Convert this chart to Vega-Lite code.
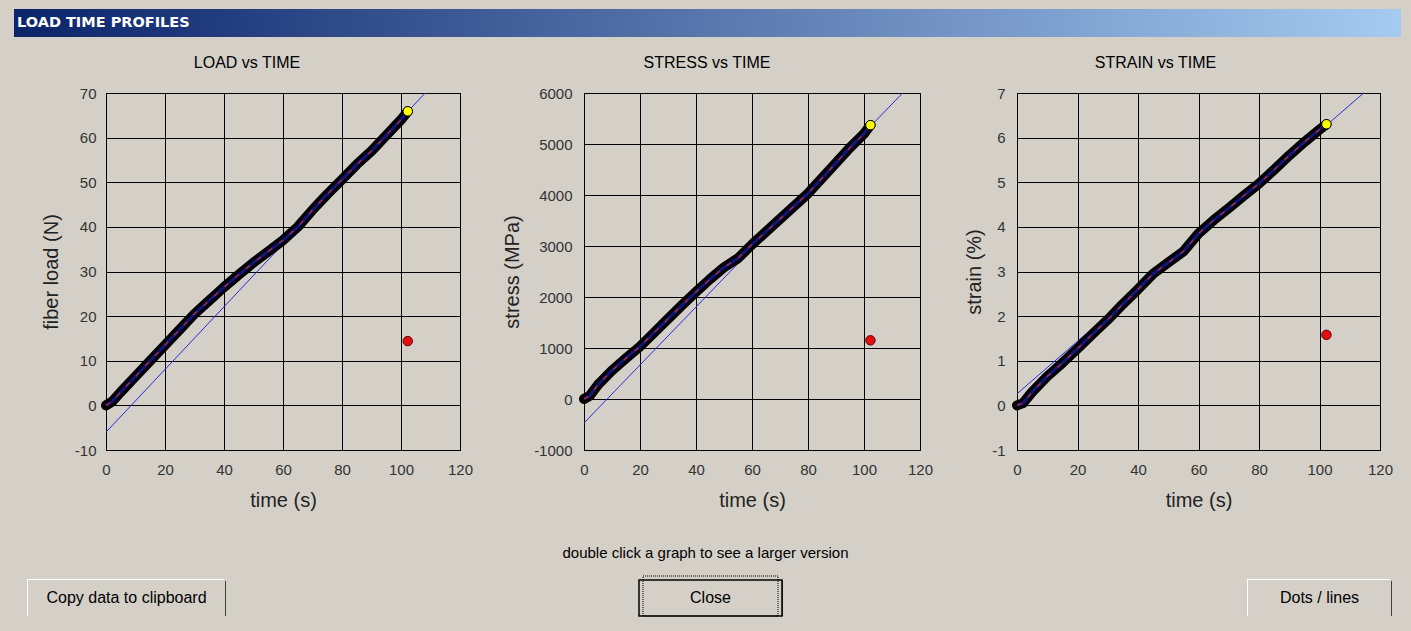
{
  "$schema": "https://vega.github.io/schema/vega-lite/v6.json",
  "background": "#d4d0c8",
  "padding": {"left": 13, "top": 9, "right": 11, "bottom": 14},
  "config": {
    "font": "Liberation Sans",
    "view": {"stroke": "#000", "strokeWidth": 1},
    "axis": {
      "grid": true, "gridColor": "#000", "gridOpacity": 1, "gridWidth": 1,
      "domain": false, "ticks": false, "tickSize": 0,
      "labelFont": "Liberation Sans", "labelFontSize": 15, "labelColor": "#333",
      "titleFont": "Liberation Sans", "titleFontSize": 20, "titleFontWeight": "normal", "titleColor": "#222"
    },
    "title": {"font": "Liberation Sans", "fontSize": 16, "fontWeight": "normal", "color": "#000"}
  },
  "datasets": {
    "load": [
      {"kind": "fit", "t": 0, "v": -6}, {"kind": "fit", "t": 108.2, "v": 70},
      {"kind": "data", "t": 0, "v": 0}, {"kind": "data", "t": 2, "v": 0.8}, {"kind": "data", "t": 5, "v": 3},
      {"kind": "data", "t": 10, "v": 6.5}, {"kind": "data", "t": 15, "v": 10}, {"kind": "data", "t": 20, "v": 13.5},
      {"kind": "data", "t": 25, "v": 17}, {"kind": "data", "t": 30, "v": 20.5}, {"kind": "data", "t": 35, "v": 23.5},
      {"kind": "data", "t": 40, "v": 26.5}, {"kind": "data", "t": 45, "v": 29.3}, {"kind": "data", "t": 50, "v": 32},
      {"kind": "data", "t": 55, "v": 34.5}, {"kind": "data", "t": 60, "v": 37}, {"kind": "data", "t": 65, "v": 40},
      {"kind": "data", "t": 70, "v": 43.8}, {"kind": "data", "t": 75, "v": 47.3}, {"kind": "data", "t": 80, "v": 50.6},
      {"kind": "data", "t": 85, "v": 54}, {"kind": "data", "t": 90, "v": 57}, {"kind": "data", "t": 95, "v": 60.5},
      {"kind": "data", "t": 100, "v": 64}, {"kind": "data", "t": 102.3, "v": 65.9},
      {"kind": "last", "t": 102.3, "v": 65.9},
      {"kind": "outlier", "t": 102.3, "v": 14.4}
    ],
    "stress": [
      {"kind": "fit", "t": 0, "v": -470}, {"kind": "fit", "t": 113.8, "v": 6000},
      {"kind": "data", "t": 0, "v": 0}, {"kind": "data", "t": 2, "v": 60}, {"kind": "data", "t": 5, "v": 280},
      {"kind": "data", "t": 10, "v": 560}, {"kind": "data", "t": 15, "v": 800}, {"kind": "data", "t": 20, "v": 1030},
      {"kind": "data", "t": 25, "v": 1300}, {"kind": "data", "t": 30, "v": 1570}, {"kind": "data", "t": 35, "v": 1840},
      {"kind": "data", "t": 40, "v": 2100}, {"kind": "data", "t": 45, "v": 2350}, {"kind": "data", "t": 50, "v": 2580},
      {"kind": "data", "t": 55, "v": 2760}, {"kind": "data", "t": 60, "v": 3030}, {"kind": "data", "t": 65, "v": 3280},
      {"kind": "data", "t": 70, "v": 3530}, {"kind": "data", "t": 75, "v": 3780}, {"kind": "data", "t": 80, "v": 4030},
      {"kind": "data", "t": 85, "v": 4330}, {"kind": "data", "t": 90, "v": 4630}, {"kind": "data", "t": 95, "v": 4930},
      {"kind": "data", "t": 100, "v": 5200}, {"kind": "data", "t": 102.3, "v": 5370},
      {"kind": "last", "t": 102.3, "v": 5370},
      {"kind": "outlier", "t": 102.3, "v": 1150}
    ],
    "strain": [
      {"kind": "fit", "t": 0, "v": 0.26}, {"kind": "fit", "t": 114.6, "v": 7},
      {"kind": "data", "t": 0, "v": 0}, {"kind": "data", "t": 2, "v": 0.05}, {"kind": "data", "t": 5, "v": 0.3},
      {"kind": "data", "t": 10, "v": 0.65}, {"kind": "data", "t": 15, "v": 0.95}, {"kind": "data", "t": 20, "v": 1.27},
      {"kind": "data", "t": 25, "v": 1.6}, {"kind": "data", "t": 30, "v": 1.92}, {"kind": "data", "t": 35, "v": 2.27},
      {"kind": "data", "t": 40, "v": 2.6}, {"kind": "data", "t": 45, "v": 2.95}, {"kind": "data", "t": 50, "v": 3.2},
      {"kind": "data", "t": 55, "v": 3.45}, {"kind": "data", "t": 60, "v": 3.85}, {"kind": "data", "t": 65, "v": 4.15},
      {"kind": "data", "t": 70, "v": 4.42}, {"kind": "data", "t": 75, "v": 4.7}, {"kind": "data", "t": 80, "v": 4.97},
      {"kind": "data", "t": 85, "v": 5.28}, {"kind": "data", "t": 90, "v": 5.6}, {"kind": "data", "t": 95, "v": 5.9},
      {"kind": "data", "t": 100, "v": 6.18}, {"kind": "data", "t": 102.3, "v": 6.3},
      {"kind": "last", "t": 102.3, "v": 6.3},
      {"kind": "outlier", "t": 102.3, "v": 1.58}
    ]
  },
  "spacing": 17,
  "vconcat": [
    {
      "width": 1295, "height": 28,
      "view": {"stroke": null},
      "data": {"values": [{"title": "LOAD TIME PROFILES"}]},
      "layer": [
        {
          "mark": {"type": "rect", "xOffset": -92, "color": {"gradient": "linear", "x1": 0, "x2": 1, "y1": 0, "y2": 0,
            "stops": [{"offset": 0, "color": "#0a246a"}, {"offset": 1, "color": "#a6caf0"}]}},
          "encoding": {
            "x": {"datum": 0, "type": "quantitative", "scale": {"domain": [0, 1], "nice": false, "zero": false}, "axis": null},
            "x2": {"datum": 1}
          }
        },
        {
          "mark": {"type": "text", "align": "left", "dx": -89, "color": "#ffffff", "font": "DejaVu Sans", "fontWeight": "bold", "fontSize": 14.5},
          "encoding": {
            "x": {"datum": 0, "type": "quantitative"},
            "text": {"field": "title"}
          }
        }
      ]
    },
    {
      "spacing": 34,
      "vconcat": [
        {
          "spacing": 0,
          "hconcat": [
            {
              "width": 354, "height": 357,
              "title": {"text": "LOAD vs TIME", "frame": "group", "anchor": "middle", "dx": -36, "offset": -1, "baseline": "bottom"},
              "data": {"name": "load"},
              "encoding": {
                "x": {"field": "t", "type": "quantitative", "scale": {"domain": [0, 120], "nice": false, "zero": false},
                  "axis": {"title": "time (s)", "values": [0, 20, 40, 60, 80, 100, 120], "labelFlush": false, "labelPadding": 12, "titlePadding": 13}},
                "y": {"field": "v", "type": "quantitative", "scale": {"domain": [-10, 70], "nice": false, "zero": false},
                  "axis": {"title": "fiber load (N)", "values": [-10, 0, 10, 20, 30, 40, 50, 60, 70], "labelPadding": 10,
                    "minExtent": 92, "maxExtent": 92, "titleX": -55, "titleBaseline": "middle", "labelExpr": "'' + datum.value"}}
              },
              "layer": [
                {"transform": [{"filter": "datum.kind == 'fit'"}], "mark": {"type": "line", "color": "#2a2ae0", "strokeWidth": 1}},
                {"transform": [{"filter": "datum.kind == 'data'"}], "mark": {"type": "line", "color": "#000", "strokeWidth": 10, "strokeCap": "round", "strokeJoin": "round"}},
                {"transform": [{"filter": "datum.kind == 'data'"}], "mark": {"type": "line", "color": "#14147a", "strokeWidth": 3}},
                {"transform": [{"filter": "datum.kind == 'data'"}], "mark": {"type": "line", "color": "#b83030", "strokeWidth": 1.2, "strokeDash": [5, 9]}},
                {"transform": [{"filter": "datum.kind == 'last'"}], "mark": {"type": "circle", "color": "#ffff00", "stroke": "#000", "strokeWidth": 1, "opacity": 1, "size": 90}},
                {"transform": [{"filter": "datum.kind == 'outlier'"}], "mark": {"type": "circle", "color": "#e01010", "stroke": "#600", "strokeWidth": 1, "opacity": 1, "size": 90}}
              ]
            },
            {
              "width": 336, "height": 357,
              "title": {"text": "STRESS vs TIME", "frame": "group", "anchor": "middle", "dx": -45, "offset": -1, "baseline": "bottom"},
              "data": {"name": "stress"},
              "encoding": {
                "x": {"field": "t", "type": "quantitative", "scale": {"domain": [0, 120], "nice": false, "zero": false},
                  "axis": {"title": "time (s)", "values": [0, 20, 40, 60, 80, 100, 120], "labelFlush": false, "labelPadding": 12, "titlePadding": 13}},
                "y": {"field": "v", "type": "quantitative", "scale": {"domain": [-1000, 6000], "nice": false, "zero": false},
                  "axis": {"title": "stress (MPa)", "values": [-1000, 0, 1000, 2000, 3000, 4000, 5000, 6000], "labelPadding": 12,
                    "minExtent": 109, "maxExtent": 109, "titleX": -72, "titleBaseline": "middle", "labelExpr": "'' + datum.value"}}
              },
              "layer": [
                {"transform": [{"filter": "datum.kind == 'fit'"}], "mark": {"type": "line", "color": "#2a2ae0", "strokeWidth": 1}},
                {"transform": [{"filter": "datum.kind == 'data'"}], "mark": {"type": "line", "color": "#000", "strokeWidth": 10, "strokeCap": "round", "strokeJoin": "round"}},
                {"transform": [{"filter": "datum.kind == 'data'"}], "mark": {"type": "line", "color": "#14147a", "strokeWidth": 3}},
                {"transform": [{"filter": "datum.kind == 'data'"}], "mark": {"type": "line", "color": "#b83030", "strokeWidth": 1.2, "strokeDash": [5, 9]}},
                {"transform": [{"filter": "datum.kind == 'last'"}], "mark": {"type": "circle", "color": "#ffff00", "stroke": "#000", "strokeWidth": 1, "opacity": 1, "size": 90}},
                {"transform": [{"filter": "datum.kind == 'outlier'"}], "mark": {"type": "circle", "color": "#e01010", "stroke": "#600", "strokeWidth": 1, "opacity": 1, "size": 90}}
              ]
            },
            {
              "width": 363, "height": 357,
              "title": {"text": "STRAIN vs TIME", "frame": "group", "anchor": "middle", "dx": -43, "offset": -1, "baseline": "bottom"},
              "data": {"name": "strain"},
              "encoding": {
                "x": {"field": "t", "type": "quantitative", "scale": {"domain": [0, 120], "nice": false, "zero": false},
                  "axis": {"title": "time (s)", "values": [0, 20, 40, 60, 80, 100, 120], "labelFlush": false, "labelPadding": 12, "titlePadding": 13}},
                "y": {"field": "v", "type": "quantitative", "scale": {"domain": [-1, 7], "nice": false, "zero": false},
                  "axis": {"title": "strain (%)", "values": [-1, 0, 1, 2, 3, 4, 5, 6, 7], "labelPadding": 12,
                    "minExtent": 82, "maxExtent": 82, "titleX": -43, "titleBaseline": "middle", "labelExpr": "'' + datum.value"}}
              },
              "layer": [
                {"transform": [{"filter": "datum.kind == 'fit'"}], "mark": {"type": "line", "color": "#2a2ae0", "strokeWidth": 1}},
                {"transform": [{"filter": "datum.kind == 'data'"}], "mark": {"type": "line", "color": "#000", "strokeWidth": 10, "strokeCap": "round", "strokeJoin": "round"}},
                {"transform": [{"filter": "datum.kind == 'data'"}], "mark": {"type": "line", "color": "#14147a", "strokeWidth": 3}},
                {"transform": [{"filter": "datum.kind == 'data'"}], "mark": {"type": "line", "color": "#b83030", "strokeWidth": 1.2, "strokeDash": [5, 9]}},
                {"transform": [{"filter": "datum.kind == 'last'"}], "mark": {"type": "circle", "color": "#ffff00", "stroke": "#000", "strokeWidth": 1, "opacity": 1, "size": 90}},
                {"transform": [{"filter": "datum.kind == 'outlier'"}], "mark": {"type": "circle", "color": "#e01010", "stroke": "#600", "strokeWidth": 1, "opacity": 1, "size": 90}}
              ]
            }
          ]
        },
        {
          "title": {"text": "double click a graph to see a larger version", "fontSize": 15, "offset": 0, "baseline": "bottom", "anchor": "middle", "frame": "bounds", "dx": -4},
          "spacing": 464,
          "hconcat": [
            {
              "spacing": 412,
              "hconcat": [
                {
                  "width": 119, "height": 36,
                  "view": {"stroke": null},
                  "data": {"values": [{"label": "Copy data to clipboard"}]},
                  "layer": [
                    {"mark": {"type": "rect", "fill": "#ffffff", "xOffset": -79, "x2Offset": -1, "yOffset": -1, "y2Offset": -1},
                      "encoding": {"x": {"datum": 0, "type": "quantitative", "scale": {"domain": [0, 1], "nice": false, "zero": false}, "axis": null}, "x2": {"datum": 1}}},
                    {"mark": {"type": "rect", "fill": "#404040", "xOffset": -77, "x2Offset": 1, "yOffset": 1, "y2Offset": 1},
                      "encoding": {"x": {"datum": 0, "type": "quantitative"}, "x2": {"datum": 1}}},
                    {"mark": {"type": "rect", "fill": "#d4d0c8", "xOffset": -78},
                      "encoding": {"x": {"datum": 0, "type": "quantitative"}, "x2": {"datum": 1}}},
                    {"mark": {"type": "text", "fontSize": 16, "color": "#000", "dx": -39},
                      "encoding": {"x": {"datum": 0.5, "type": "quantitative"}, "text": {"field": "label"}}}
                  ]
                },
                {
                  "width": 143, "height": 36,
                  "view": {"stroke": null},
                  "data": {"values": [{"label": "Close"}]},
                  "layer": [
                    {"mark": {"type": "rect", "fill": "#404040", "xOffset": 1, "x2Offset": 1, "yOffset": 1, "y2Offset": 1},
                      "encoding": {"x": {"datum": 0, "type": "quantitative", "scale": {"domain": [0, 1], "nice": false, "zero": false}, "axis": null}, "x2": {"datum": 1}}},
                    {"mark": {"type": "rect", "fill": "#d4d0c8", "stroke": "#000", "strokeWidth": 1.5},
                      "encoding": {"x": {"datum": 0, "type": "quantitative"}, "x2": {"datum": 1}}},
                    {"mark": {"type": "rect", "fill": null, "stroke": "#000", "strokeWidth": 1, "strokeDash": [1, 1], "xOffset": 4, "x2Offset": -4, "yOffset": -4, "y2Offset": 4},
                      "encoding": {"x": {"datum": 0, "type": "quantitative"}, "x2": {"datum": 1}}},
                    {"mark": {"type": "text", "fontSize": 16, "color": "#000"},
                      "encoding": {"x": {"datum": 0.5, "type": "quantitative"}, "text": {"field": "label"}}}
                  ]
                }
              ]
            },
            {
              "width": 143, "height": 36,
              "view": {"stroke": null},
              "data": {"values": [{"label": "Dots / lines"}]},
              "layer": [
                {"mark": {"type": "rect", "fill": "#ffffff", "xOffset": -1, "x2Offset": -1, "yOffset": -1, "y2Offset": -1},
                  "encoding": {"x": {"datum": 0, "type": "quantitative", "scale": {"domain": [0, 1], "nice": false, "zero": false}, "axis": null}, "x2": {"datum": 1}}},
                {"mark": {"type": "rect", "fill": "#404040", "xOffset": 1, "x2Offset": 1, "yOffset": 1, "y2Offset": 1},
                  "encoding": {"x": {"datum": 0, "type": "quantitative"}, "x2": {"datum": 1}}},
                {"mark": {"type": "rect", "fill": "#d4d0c8"},
                  "encoding": {"x": {"datum": 0, "type": "quantitative"}, "x2": {"datum": 1}}},
                {"mark": {"type": "text", "fontSize": 16, "color": "#000"},
                  "encoding": {"x": {"datum": 0.5, "type": "quantitative"}, "text": {"field": "label"}}}
              ]
            }
          ]
        }
      ]
    }
  ]
}
